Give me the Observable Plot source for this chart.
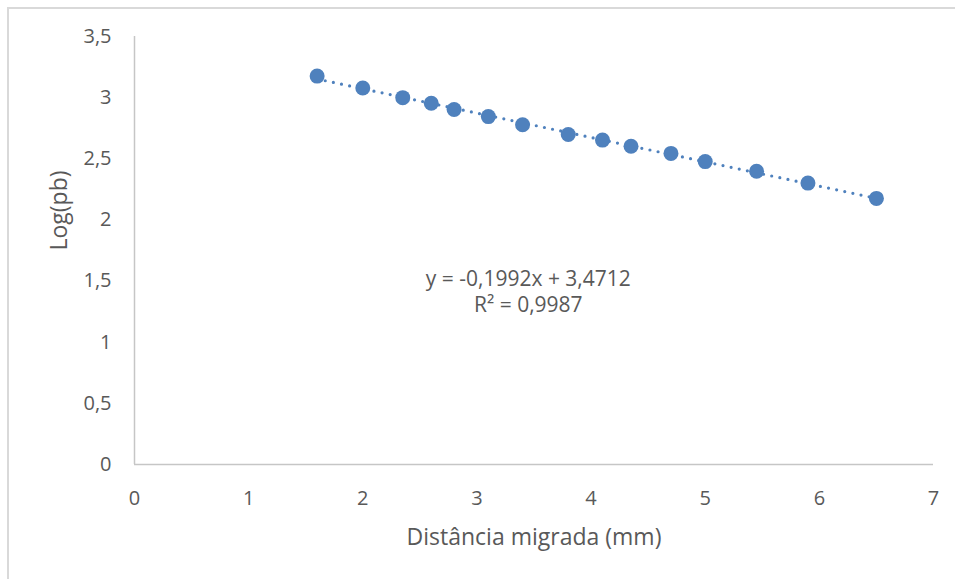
<!DOCTYPE html>
<html>
<head>
<meta charset="utf-8">
<script src="https://cdn.jsdelivr.net/npm/d3@7"></script>
<script src="https://cdn.jsdelivr.net/npm/@observablehq/plot@0.6"></script>
<style>
  html, body { margin: 0; padding: 0; background: #fff; overflow: hidden; }
  #wrap { position: relative; width: 955px; height: 579px; }
  #frame { position: absolute; left: 7px; top: 7px; width: 1000px; height: 700px;
           border-top: 2px solid #d9d9d9; border-left: 2px solid #d9d9d9; box-sizing: border-box; }
  #chart { position: absolute; left: 0; top: 0; }
</style>
</head>
<body>
<div id="wrap"><div id="frame"></div><div id="chart"></div></div>
<script>
// Data
const distancia = [1.6, 2.0, 2.35, 2.6, 2.8, 3.1, 3.4, 3.8, 4.1, 4.35, 4.7, 5.0, 5.45, 5.9, 6.5];
const logPb = [3.176, 3.079, 3.0, 2.954, 2.903, 2.845, 2.778, 2.699, 2.653, 2.602, 2.544, 2.477, 2.398, 2.301, 2.176];
const xTicks = [0, 1, 2, 3, 4, 5, 6, 7];
const yTicks = [0, 0.5, 1, 1.5, 2, 2.5, 3, 3.5];
const trendLabel = ["y = -0,1992x + 3,4712", "R² = 0,9987"];
const labelPos = {x: 3.45, y: 1.42};
const xTitle = "Distância migrada (mm)";
const yTitle = "Log(pb)";

const data = distancia.map((d, i) => ({x: d, y: logPb[i]}));
const fmt = d => String(d).replace(".", ",");
const blue = "#4f81bd";
const grey = "#595959";

const chart = Plot.plot({
  width: 955,
  height: 579,
  marginLeft: 134,
  marginRight: 22,
  marginTop: 36,
  marginBottom: 115,
  style: {fontFamily: "'Open Sans', sans-serif", fontSize: "20px", color: grey, background: "transparent"},
  x: {domain: [0, 7]},
  y: {domain: [0, 3.5]},
  marks: [
    Plot.ruleX([0], {stroke: "#c6c6c6", strokeWidth: 1.5}),
    Plot.ruleY([0], {stroke: "#c6c6c6", strokeWidth: 1.5}),
    Plot.axisX({ticks: xTicks, tickFormat: fmt, tickSize: 0, tickPadding: 26, label: null, fontSize: 20}),
    Plot.axisY({ticks: yTicks, tickFormat: fmt, tickSize: 0, tickPadding: 23, label: null, fontSize: 20}),
    Plot.text([xTitle], {frameAnchor: "bottom", dy: 80, lineAnchor: "bottom", text: d => d,
      fill: grey, fontSize: 23}),
    Plot.text([yTitle], {frameAnchor: "left", dx: -75, rotate: -90, lineAnchor: "middle", text: d => d,
      fill: grey, fontSize: 23}),
    Plot.linearRegressionY(data, {x: "x", y: "y", ci: 0, stroke: blue, strokeWidth: 3.2,
      strokeDasharray: "0,8.3", strokeLinecap: "round"}),
    Plot.dot(data, {x: "x", y: "y", r: 7.5, fill: blue, stroke: "none"}),
    Plot.text([trendLabel.join("\n")], {x: () => labelPos.x, y: () => labelPos.y, text: d => d,
      fill: grey, fontSize: 21, lineHeight: 1.2, lineAnchor: "middle", textAnchor: "middle"})
  ]
});
document.getElementById("chart").appendChild(chart);
</script>
</body>
</html>
